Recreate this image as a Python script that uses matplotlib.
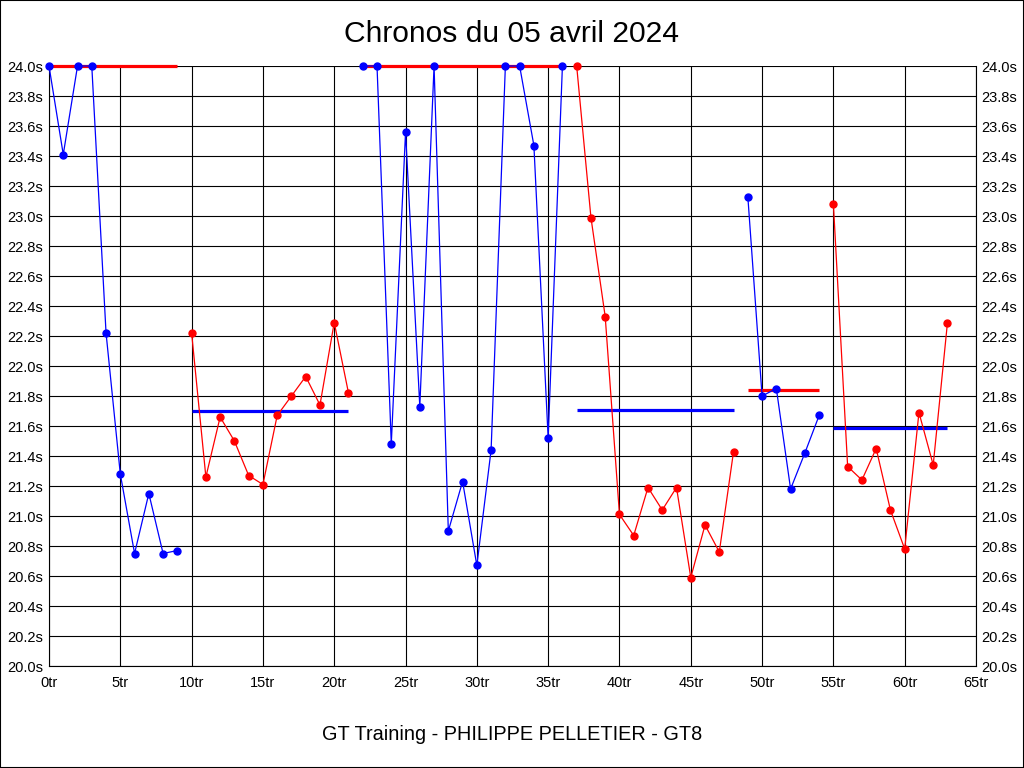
import matplotlib.pyplot as plt
from matplotlib.patches import Rectangle

# Data: lap times per stint (values at 24.0 are clipped at the top of the scale)
laps_1 = [0, 1, 2, 3, 4, 5, 6, 7, 8, 9]
times_1 = [24.0, 23.41, 24.0, 24.0, 22.22, 21.28, 20.75, 21.15, 20.75, 20.77]

laps_2 = [10, 11, 12, 13, 14, 15, 16, 17, 18, 19, 20, 21]
times_2 = [22.22, 21.26, 21.66, 21.50, 21.27, 21.21, 21.67, 21.80, 21.93, 21.74, 22.29, 21.82]

laps_3 = [22, 23, 24, 25, 26, 27, 28, 29, 30, 31, 32, 33, 34, 35, 36]
times_3 = [24.0, 24.0, 21.48, 23.56, 21.73, 24.0, 20.90, 21.23, 20.67, 21.44,
           24.0, 24.0, 23.47, 21.52, 24.0]

laps_4 = [37, 38, 39, 40, 41, 42, 43, 44, 45, 46, 47, 48]
times_4 = [24.0, 22.99, 22.33, 21.01, 20.87, 21.19, 21.04, 21.19, 20.59, 20.94, 20.76, 21.43]

laps_5 = [49, 50, 51, 52, 53, 54]
times_5 = [23.13, 21.80, 21.85, 21.18, 21.42, 21.67]

laps_6 = [55, 56, 57, 58, 59, 60, 61, 62, 63]
times_6 = [23.08, 21.33, 21.24, 21.45, 21.04, 20.78, 21.69, 21.34, 22.29]

# average per stint, as drawn
stint_means = [24.0, 21.70, 24.0, 21.71, 21.84, 21.59]

stints = [(laps_1, times_1), (laps_2, times_2), (laps_3, times_3),
          (laps_4, times_4), (laps_5, times_5), (laps_6, times_6)]
colors = ['#0000ff', '#ff0000']

plt.rcParams['font.family'] = ['Liberation Sans', 'DejaVu Sans']

fig = plt.figure(figsize=(10.24, 7.68), dpi=100)
ax = fig.add_axes([49 / 1024, 102 / 768, 927 / 1024, 600 / 768])

for i, (laps, times) in enumerate(stints):
    c = colors[i % 2]
    other = colors[(i + 1) % 2]
    ax.plot(laps, times, color=c, lw=0.9, marker='o', ms=5, mec=c, mfc=c,
            clip_on=False, zorder=3)
    ax.plot([laps[0], laps[-1]], [stint_means[i]] * 2, color=other, lw=2.3,
            solid_capstyle='butt', clip_on=False, zorder=2)

ax.set_xlim(0, 65)
ax.set_ylim(20.0, 24.0)

xt = list(range(0, 66, 5))
yt = [20.0 + 0.2 * k for k in range(21)]
ax.set_xticks(xt)
ax.set_xticklabels([f'{v}tr' for v in xt])
ax.set_yticks(yt)
ax.set_yticklabels([f'{v:.1f}s' for v in yt])
ax.tick_params(axis='both', length=0, labelsize=10.5, colors='black')
ax.tick_params(axis='x', pad=7)
ax.tick_params(axis='y', pad=4, labelright=True, right=True)

ax.grid(True, color='black', lw=0.8)
ax.set_axisbelow(True)
for side in ['left', 'right', 'bottom']:
    ax.spines[side].set_color('black')
    ax.spines[side].set_linewidth(0.8)
ax.spines['top'].set_visible(False)

fig.text(0.5, 1 - 34 / 768, 'Chronos du 05 avril 2024', ha='center', va='center', fontsize=21.6)
fig.text(0.5, 1 - 735 / 768, 'GT Training - PHILIPPE PELLETIER - GT8', ha='center', va='center', fontsize=14.3)

fig.patches.append(Rectangle((0, 0), 1, 1, transform=fig.transFigure, fill=False,
                             edgecolor='black', lw=1.5))

plt.savefig('out.png', dpi=100)
plt.close()
